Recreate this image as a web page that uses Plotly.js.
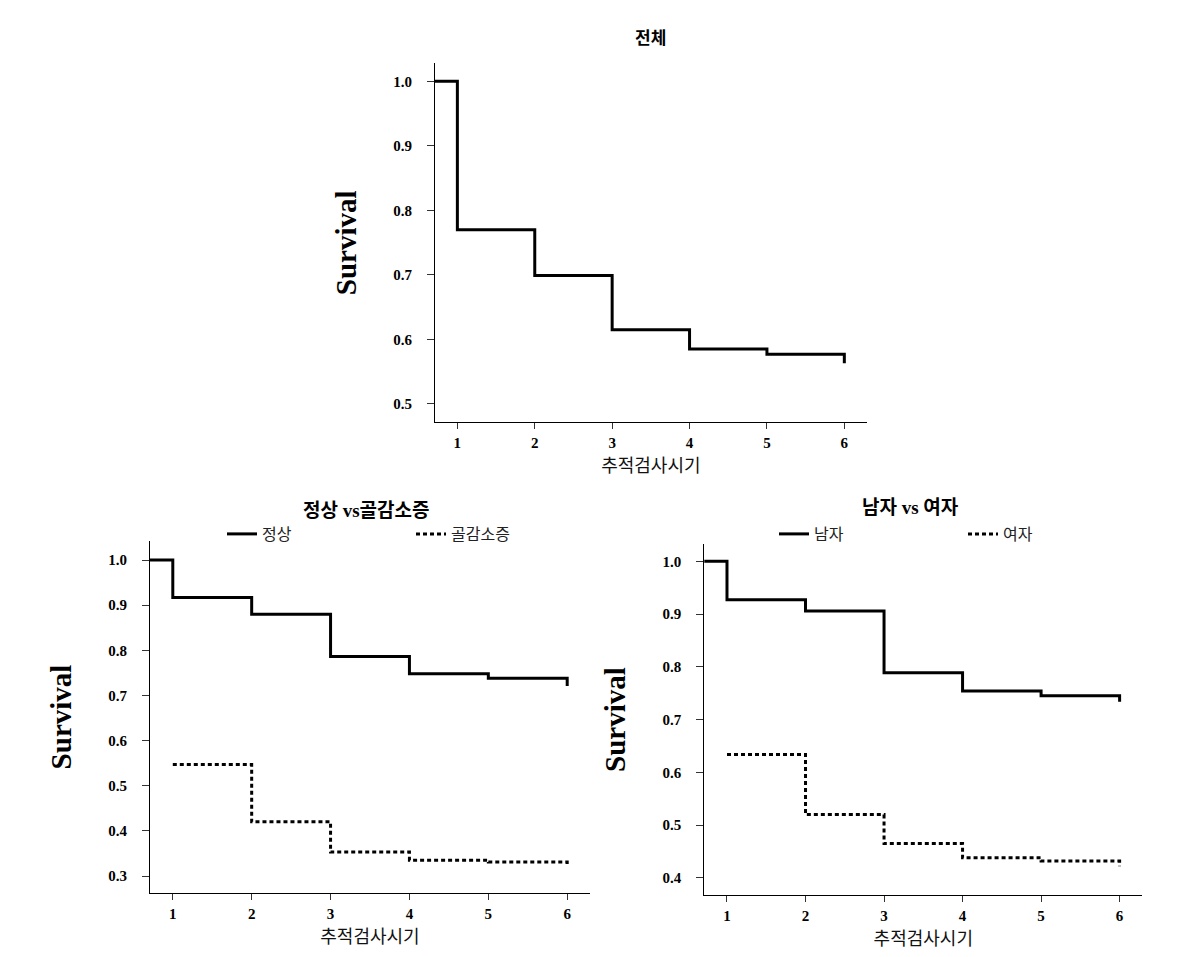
<!DOCTYPE html>
<html><head><meta charset="utf-8">
<script src="https://cdn.plot.ly/plotly-3.0.1.min.js"></script>
<style>html,body{margin:0;padding:0;background:#fff}#chart{width:1204px;height:957px}</style>
</head><body><div id="chart"></div>
<script>
// ---- data ----
const timeAll = [0, 1, 2, 3, 4, 5, 6];
const survivalAll = [1.0, 0.770, 0.699, 0.615, 0.585, 0.577, 0.563];

const timeNormal = [0, 1, 2, 3, 4, 5, 6];
const survivalNormal = [1.0, 0.917, 0.880, 0.786, 0.748, 0.738, 0.721];
const timeOsteopenia = [1, 2, 3, 4, 5, 6];
const survivalOsteopenia = [0.547, 0.420, 0.353, 0.335, 0.331, 0.324];

const timeMale = [0, 1, 2, 3, 4, 5, 6];
const survivalMale = [1.0, 0.927, 0.906, 0.789, 0.754, 0.745, 0.734];
const timeFemale = [1, 2, 3, 4, 5, 6];
const survivalFemale = [0.634, 0.520, 0.465, 0.438, 0.432, 0.422];

const xTickVals = [1, 2, 3, 4, 5, 6];
const yTicksTop = [0.5, 0.6, 0.7, 0.8, 0.9, 1.0];
const yTicksBone = [0.3, 0.4, 0.5, 0.6, 0.7, 0.8, 0.9, 1.0];
const yTicksSex = [0.4, 0.5, 0.6, 0.7, 0.8, 0.9, 1.0];

const titleAll = '전체';
const titleBone = '정상 vs골감소증';
const titleSex = '남자 vs 여자';
const xTitle = '추적검사시기';
const yTitle = 'Survival';
const nameNormal = '정상', nameOsteo = '골감소증', nameMale = '남자', nameFemale = '여자';

// ---- layout helpers ----
const W = 1204, H = 957;
const px = v => v / W, py = v => 1 - v / H;
const SERIF = 'Liberation Serif, Times New Roman, serif';
const KR = 'Noto Sans CJK KR, sans-serif';
const MIX = 'Liberation Serif, Noto Sans CJK KR, serif';

const solid = {color: '#000', width: 3, shape: 'hv', dash: 'solid'};
const dotted = {color: '#000', width: 3, shape: 'hv', dash: '4px,3px'};

const traces = [
  {x: timeAll, y: survivalAll, xaxis: 'x', yaxis: 'y', mode: 'lines', line: solid, showlegend: false, name: titleAll},
  {x: timeNormal, y: survivalNormal, xaxis: 'x2', yaxis: 'y2', mode: 'lines', line: solid, name: nameNormal, legend: 'legend'},
  {x: timeOsteopenia, y: survivalOsteopenia, xaxis: 'x2', yaxis: 'y2', mode: 'lines', line: dotted, name: nameOsteo, legend: 'legend'},
  {x: timeMale, y: survivalMale, xaxis: 'x3', yaxis: 'y3', mode: 'lines', line: solid, name: nameMale, legend: 'legend2'},
  {x: timeFemale, y: survivalFemale, xaxis: 'x3', yaxis: 'y3', mode: 'lines', line: dotted, name: nameFemale, legend: 'legend2'}
];

function xa(domain, anchor) {
  return {
    domain: domain, anchor: anchor, range: [0.711, 6.289],
    tickvals: xTickVals, ticktext: xTickVals.map(String),
    showgrid: false, zeroline: false, showline: true, linecolor: '#000', linewidth: 1,
    ticks: 'outside', ticklen: 6, tickwidth: 1, tickcolor: '#333',
    tickfont: {family: SERIF, size: 15, color: '#000', weight: 'bold'},
    ticklabelstandoff: 1,
    title: {text: xTitle, font: {family: KR, size: 18, color: '#111'}, standoff: 5},
    automargin: true, fixedrange: true
  };
}
function ya(domain, anchor, range, vals) {
  return {
    domain: domain, anchor: anchor, range: range,
    tickvals: vals, ticktext: vals.map(v => v.toFixed(1)),
    showgrid: false, zeroline: false, showline: true, linecolor: '#000', linewidth: 1,
    ticks: 'outside', ticklen: 7, tickwidth: 1, tickcolor: '#333',
    tickfont: {family: SERIF, size: 15, color: '#000', weight: 'bold'},
    ticklabelstandoff: 12,
    title: {text: yTitle, font: {family: SERIF, size: 29, color: '#000', weight: 'bold'}, standoff: 28},
    automargin: true, fixedrange: true
  };
}

const legendBase = {
  orientation: 'h', xanchor: 'left', yanchor: 'middle',
  font: {family: KR, size: 16, color: '#222'},
  bgcolor: 'rgba(0,0,0,0)', borderwidth: 0,
  entrywidthmode: 'pixels', entrywidth: 144, itemclick: false, itemdoubleclick: false
};

const layout = {
  width: W, height: H,
  margin: {l: 0, r: 0, t: 0, b: 0},
  paper_bgcolor: '#fff', plot_bgcolor: '#fff',
  showlegend: true,
  xaxis: xa([px(435), px(866.7)], 'y'),
  yaxis: ya([py(422.3), py(63.3)], 'x', [0.4716, 1.0279], yTicksTop),
  xaxis2: xa([px(150), px(590)], 'y2'),
  yaxis2: ya([py(893.3), py(540.7)], 'x2', [0.2617, 1.0428], yTicksBone),
  xaxis3: xa([px(704.3), px(1142.3)], 'y3'),
  yaxis3: ya([py(895), py(544)], 'x3', [0.3676, 1.0328], yTicksSex),
  legend: Object.assign({}, legendBase, {x: px(222), y: py(534)}),
  legend2: Object.assign({}, legendBase, {x: px(774), y: py(534)}),
  annotations: [
    {text: titleAll, x: px(650), y: py(38), xref: 'paper', yref: 'paper', showarrow: false,
     xanchor: 'center', yanchor: 'middle', font: {family: MIX, size: 17, color: '#000', weight: 'bold'}},
    {text: titleBone, x: px(366), y: py(510), xref: 'paper', yref: 'paper', showarrow: false,
     xanchor: 'center', yanchor: 'middle', font: {family: MIX, size: 19, color: '#000', weight: 'bold'}},
    {text: titleSex, x: px(910), y: py(508), xref: 'paper', yref: 'paper', showarrow: false,
     xanchor: 'center', yanchor: 'middle', font: {family: MIX, size: 19, color: '#000', weight: 'bold'}}
  ]
};

Plotly.newPlot('chart', traces, layout, {displayModeBar: false, staticPlot: true});
</script>
</body></html>
